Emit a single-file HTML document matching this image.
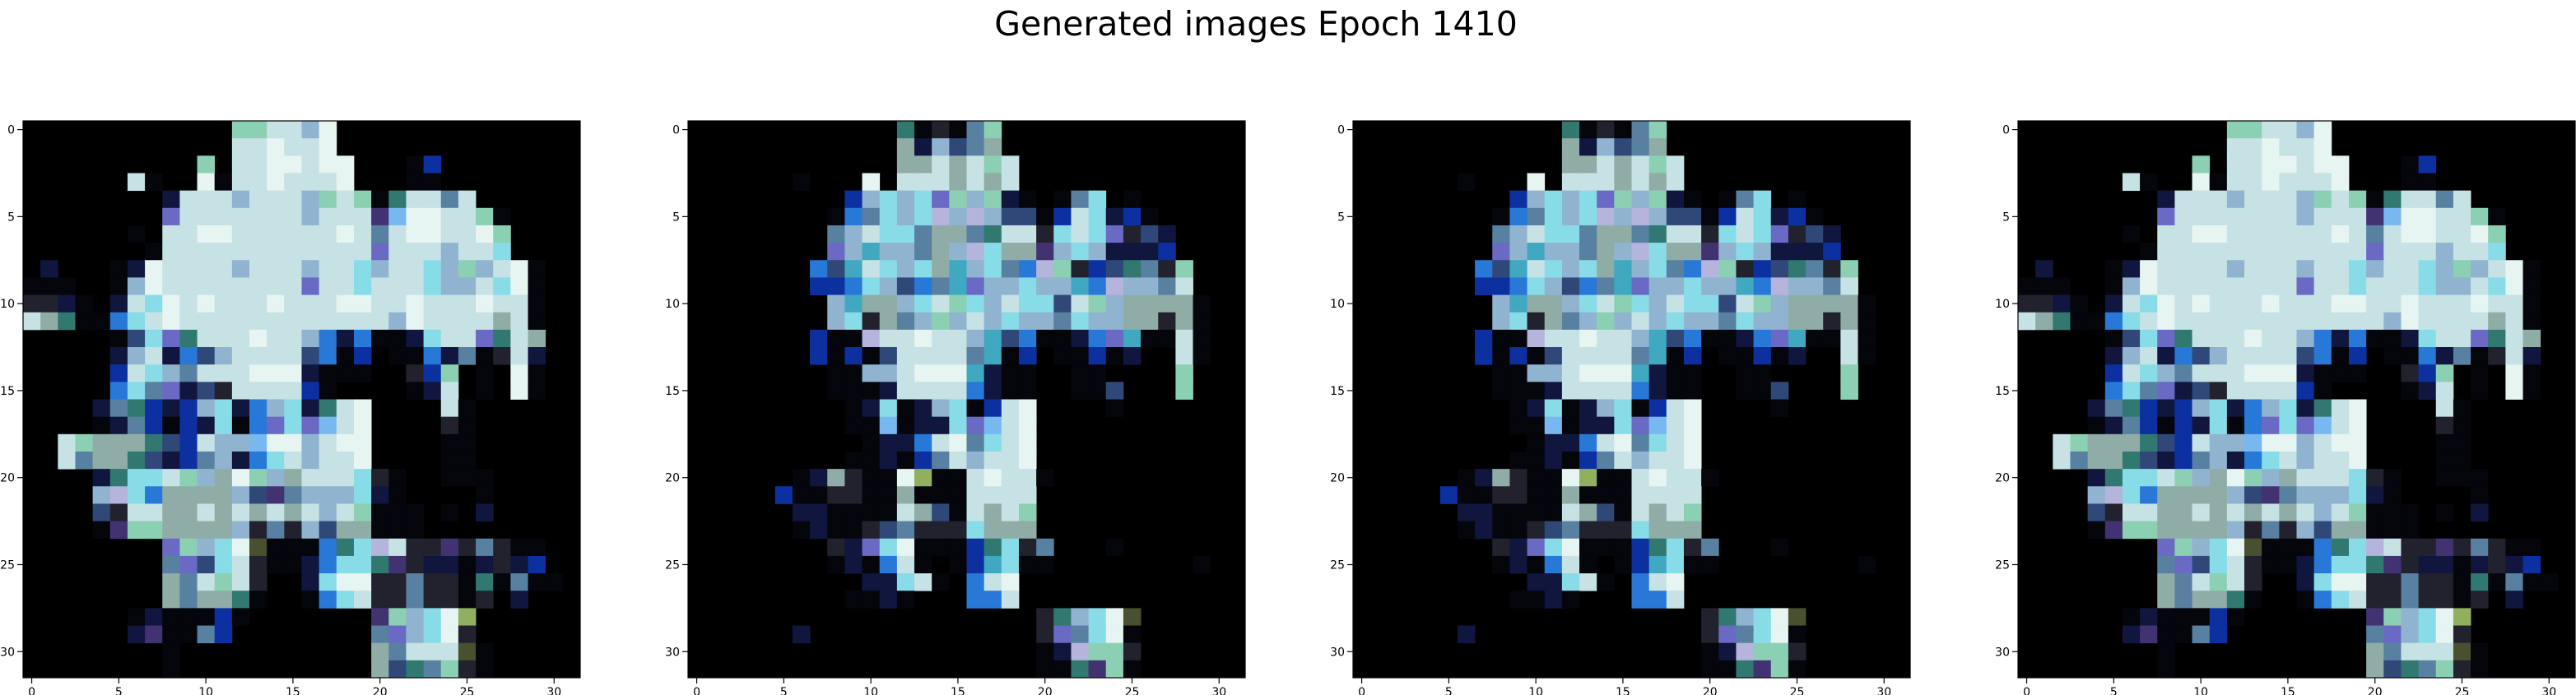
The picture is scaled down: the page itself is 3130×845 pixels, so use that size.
<!DOCTYPE html>
<html><head><meta charset="utf-8"><style>
html,body{margin:0;padding:0;background:#fff;}
svg{display:block;}
text{font-family:"DejaVu Sans","Liberation Sans",sans-serif;fill:#000;}
</style></head><body>
<svg id="fig" width="3130" height="845" viewBox="0 0 3130 845" xmlns="http://www.w3.org/2000/svg">
<rect x="0" y="0" width="3130" height="845" fill="#fff"/>
<text x="1526" y="43" font-size="41" text-anchor="middle">Generated images Epoch 1410</text>
</svg>
<script>
const imageA = [
"............GGLLmW..............",
"............LLWLLW..............",
"..........G.LLWWLWW...kB........",
"......Lk..WkLLWLLLW...kk........",
"........nLLLmLLLmGLGkTLLML......",
"........pLLLLLLLmLLLPlWWLLGk....",
"......k.LLWWLLLLLLWLMLWWLLWG....",
".......kLLLLLLLLLLLLpLLLmLLc....",
".n...knWLLLLmLLLmLLcmLLcmGmLWk..",
"kkk..kmWLLLLLLLLpLLcLLLcmmLcWk..",
"ddnk.nLcWLWLLLWLLLWWLLWLLLWLLk..",
"LgTkkbcLWLLLLLLLLLLLLmWLLLLgLk..",
".....kNcpTLLLWLLmbnbkkncLLpTLg..",
".....nmLnbNmLLLLNbkB.kkbnMkdLn..",
".....BLcmMLLLWWWnkkk..dBG.k.Wk..",
".....bcMpnNdLLLLBk....knL.k.Wk..",
"....nMTBnBmcnbmcnTLW....Lk......",
"....knMBkBnckbpcplLW....dk......",
"..LGgggTNBLmmlWWmLWW....kk......",
"..LMggTNnBMmnbcLmLLW....kk......",
"....nTccLGmgWGmgLLLcdk..kkk.....",
"....mvcbggggmNPMmmmcnk....k.....",
"....NdLLggLgLgLgLmLGkkk.k.n.....",
"....kPGGggggmdMdmNggkkk.........",
"........pGmcWYkkkbTcvLddPdMdkk..",
"........MpNcLdkknbccTPdnnkndnB..",
"........gMLGLd..ncWWddMddkTkMkk.",
"........gMggTk..kbcLddMddkd.n...",
"......knkkkBk.......PGmcWy......",
"......nPkkMB........MpmcWd......",
"........k...........gMLLLYk.....",
"........k...........gNTMGdk....."
];
const imageB = [
"............TkdkMG..............",
"............gnmNMg..............",
"............ggLgLGL.............",
"......k...W.LLLgLgL.............",
".........BmcmcpGmGnk.kMc.k......",
"........kbMcmcvmvmNNkBLcnBk.....",
"........MmLccMggMTLLdcLcpdNn....",
"........pmqmmMgmvcggPmcmnnnB....",
".......bNqLcmcgqmcMbvGdBNTMdG...",
".......BBbcmNbMqpmmcmmqbvmmML...",
"........mqggmcLGcmLccNLGmggggk..",
"........mcdgMmGmLmcmmMcmmggdgk..",
".......BkkvLLWLLmqNbkknbpqkkLk..",
".......BkBkNLLLLMqkB.kkBkn..Lk..",
"........kkmmLWWWqnkk..kk....G...",
"........kkknLLLLbnkk..kkN...G...",
".........kncknmckBLW....k.......",
".........kklknncplLW............",
"..........knnbLWMcLW............",
".........kknkBMLmLLW............",
"......kngdkkWykkLWLLk...........",
".....BkkddkkgkkkLLLL............",
"......nnkkkkLgNkLgLG............",
"......knkkdNMdddcggg............",
"........dnpcWkkkBTcdM...k.......",
"........knkbLk.kBqckk........k..",
"..........nncLk.bLW.............",
".........kknk...bbL.............",
"....................dTmcWY......",
"......n.............dpMcWk......",
"....................knvGGd......",
"....................kkTPGk......"
];
const imageC = imageB.slice();
const imageD = imageA.slice();
const tickValues = [0,5,10,15,20,25,30];
const tickLabels = ["0","5","10","15","20","25","30"];

const palette = {".":"#000000",k:"#05050c",n:"#10163e",N:"#304878",B:"#0c30a0",b:"#2878d8",l:"#78b8f0",c:"#88dce8",q:"#40a8c0",m:"#90b4d0",M:"#5880a0",L:"#c6e2e4",W:"#e6f4f2",g:"#90aca6",G:"#8cd0b4",T:"#307870",d:"#22222e",p:"#6a6ac4",P:"#423272",v:"#b4b4dc",y:"#90b060",Y:"#485030"};
const panelLeft = [28,836,1644,2452];
const panelTop = 147, panelSize = 677, N = 32;
const cell = panelSize / N;
const svg = document.getElementById('fig');
const NS = 'http://www.w3.org/2000/svg';
function xPos(i, p){ return panelLeft[p] + i*cell; }
function yPos(j){ return panelTop + j*cell; }
const images = [imageA, imageB, imageC, imageD];
images.forEach((img, p) => {
  const g = document.createElementNS(NS,'g');
  
  
  svg.appendChild(g);
  const bg = document.createElementNS(NS,'rect');
  bg.setAttribute('x', panelLeft[p]); bg.setAttribute('y', panelTop);
  bg.setAttribute('width', panelSize); bg.setAttribute('height', panelSize);
  bg.setAttribute('fill', '#000');
  
  
  g.appendChild(bg);
  img.forEach((row, j) => {
    for (let i = 0; i < N; i++) {
      const ch = row[i] || '.';
      if (ch === '.') continue;
      const r = document.createElementNS(NS,'rect');
      r.setAttribute('x', xPos(i,p).toFixed(2));
      r.setAttribute('y', yPos(j).toFixed(2));
      r.setAttribute('width', (cell+0.4).toFixed(2));
      r.setAttribute('height', (cell+0.4).toFixed(2));
      r.setAttribute('fill', palette[ch] || '#000');
      
      
      g.appendChild(r);
    }
  });
  const frame = document.createElementNS(NS,'rect');
  frame.setAttribute('x', panelLeft[p]); frame.setAttribute('y', panelTop);
  frame.setAttribute('width', panelSize); frame.setAttribute('height', panelSize);
  frame.setAttribute('fill', 'none'); frame.setAttribute('stroke', '#000'); frame.setAttribute('stroke-width', '1.2');
  
  
  g.appendChild(frame);
  tickValues.forEach((v, k) => {
    const cx = xPos(v + 0.5, p);
    const bottom = panelTop + panelSize;
    const t = document.createElementNS(NS,'line');
    t.setAttribute('x1', cx); t.setAttribute('x2', cx);
    t.setAttribute('y1', bottom); t.setAttribute('y2', bottom + 7);
    t.setAttribute('stroke', '#000'); t.setAttribute('stroke-width', '1.2');
    
    
    g.appendChild(t);
    const lb = document.createElementNS(NS,'text');
    lb.setAttribute('x', cx); lb.setAttribute('y', bottom + 22);
    lb.setAttribute('font-size', '14'); lb.setAttribute('text-anchor', 'middle');
    lb.textContent = tickLabels[k];
    
    
    g.appendChild(lb);
    const cy = yPos(v + 0.5);
    const ty = document.createElementNS(NS,'line');
    ty.setAttribute('x1', panelLeft[p] - 7); ty.setAttribute('x2', panelLeft[p]);
    ty.setAttribute('y1', cy); ty.setAttribute('y2', cy);
    ty.setAttribute('stroke', '#000'); ty.setAttribute('stroke-width', '1.2');
    
    
    g.appendChild(ty);
    const ly = document.createElementNS(NS,'text');
    ly.setAttribute('x', panelLeft[p] - 10); ly.setAttribute('y', cy + 5);
    ly.setAttribute('font-size', '14'); ly.setAttribute('text-anchor', 'end');
    ly.textContent = tickLabels[k];
    
    
    g.appendChild(ly);
  });
});
</script>
</body></html>
